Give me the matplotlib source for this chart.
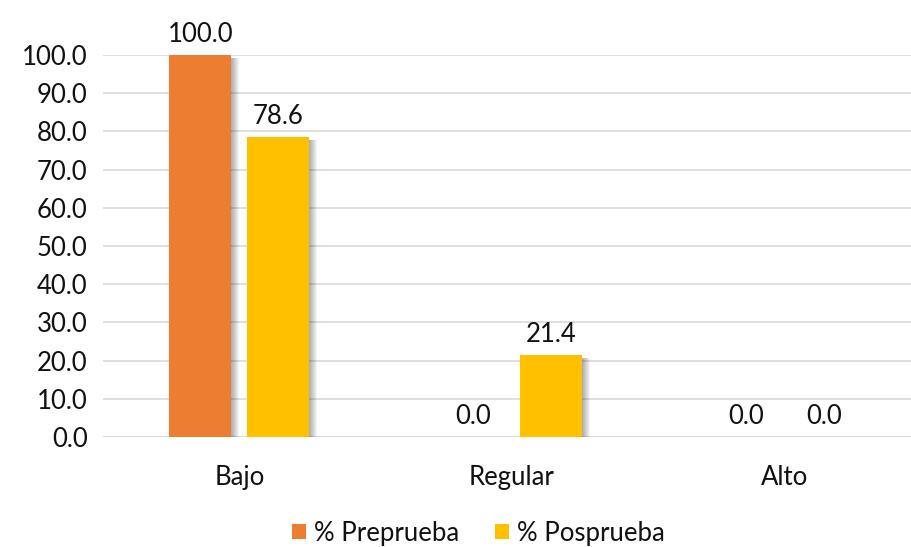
import numpy as np
import matplotlib.pyplot as plt

plt.rcParams["font.family"] = ["Lato", "DejaVu Sans"]

categories = ["Bajo", "Regular", "Alto"]
preprueba = [100.0, 0.0, 0.0]
posprueba = [78.6, 21.4, 0.0]
series_names = ["% Preprueba", "% Posprueba"]
colors = ["#ED7D31", "#FFC000"]

fig = plt.figure(figsize=(9.12, 5.47), dpi=100)
# plot area a bit wider than the figure on the right, like the source
ax = fig.add_axes([103 / 912, 110 / 547, 818 / 912, 382 / 547])

x = np.arange(len(categories))
width = 0.228
offset = 0.143
px = 1 / 272.5  # one pixel in category units
py = 1 / 3.82  # one pixel in value units

for vals, off, col, name in zip(
    [preprueba, posprueba], [-offset, offset], colors, series_names
):
    # soft drop shadow on the right side
    for k in range(1, 9):
        h = [max(v - 3 * py, 0) if v > 0 else 0 for v in vals]
        ax.bar(
            x + off + k * px,
            h,
            width,
            color="black",
            alpha=0.045,
            linewidth=0,
            zorder=2,
        )
    ax.bar(x + off, vals, width, color=col, label=name, linewidth=0, zorder=3)
    for xi, v in zip(x + off, vals):
        ax.text(
            xi, v + 8 * py, "%.1f" % v,
            ha="center", va="bottom", fontsize=18.5, color="#111111", zorder=4,
        )

ax.set_xlim(-0.5, 2.5)
ax.set_ylim(0, 100)
ax.set_yticks(np.arange(0, 101, 10))
ax.set_yticklabels(["%.1f" % t for t in np.arange(0, 101, 10)])
ax.set_xticks(x)
ax.set_xticklabels(categories)
ax.yaxis.grid(True, color="#D9D9D9", linewidth=1.2, zorder=0)
ax.set_axisbelow(True)
for s in ax.spines.values():
    s.set_visible(False)
ax.tick_params(axis="y", length=0, pad=11, labelsize=18.5, labelcolor="#111111")
ax.tick_params(axis="x", length=0, pad=20, labelsize=18.5, labelcolor="#111111")
ax.axhline(0, color="#D9D9D9", linewidth=1.2, zorder=1)

handles, labels = ax.get_legend_handles_labels()
fig.legend(
    handles, labels,
    loc="center", bbox_to_anchor=(478 / 912, 1 - 533 / 547),
    ncol=2, frameon=False, fontsize=18.5,
    handlelength=0.55, handleheight=0.55, handletextpad=0.3, columnspacing=1.4,
    labelcolor="#111111",
)

fig.savefig("out.png", dpi=100)
